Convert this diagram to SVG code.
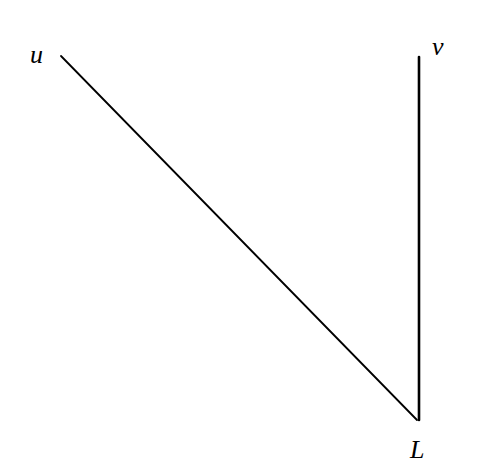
<svg xmlns="http://www.w3.org/2000/svg" width="481" height="466" viewBox="0 0 481 466">
<style>
.lbl{font-family:"Liberation Serif",serif;font-style:italic;font-size:26px;fill:#000}
.edge{stroke:#000;fill:none;stroke-linecap:round}
</style>
<rect width="481" height="466" fill="#fff"/>
<g id="connectors">
<line class="edge" x1="61" y1="56" x2="417" y2="420" stroke-width="1.8"/>
<line class="edge" x1="419" y1="57" x2="419" y2="420" stroke-width="2.6"/>
</g>
<g id="node-u"><text class="lbl" x="30" y="63">u</text></g>
<g id="node-v"><text class="lbl" x="432" y="55">v</text></g>
<g id="node-L"><text class="lbl" x="410" y="458">L</text></g>
</svg>
